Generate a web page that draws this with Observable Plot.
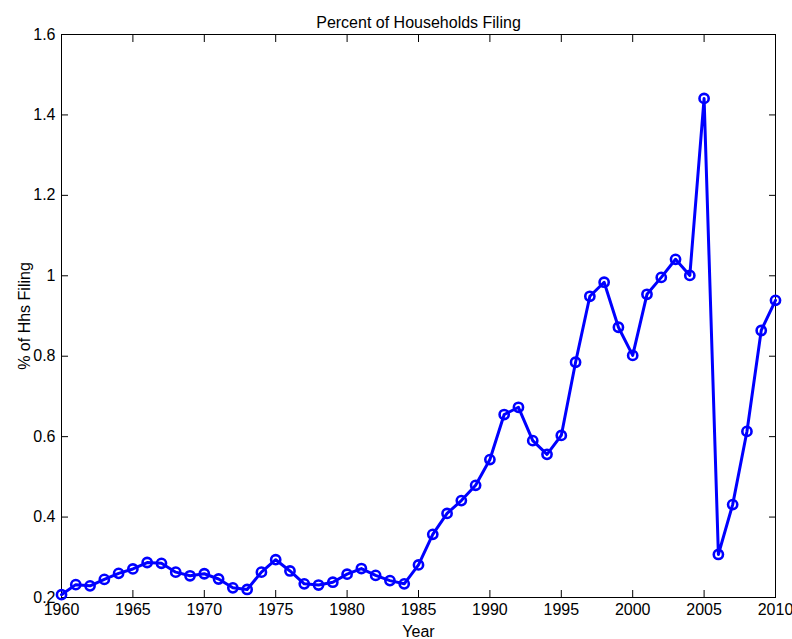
<!DOCTYPE html>
<html><head><meta charset="utf-8">
<script src="https://cdn.jsdelivr.net/npm/d3@7"></script>
<script src="https://cdn.jsdelivr.net/npm/@observablehq/plot@0.6"></script>
<style>body{margin:0;background:#fff}</style>
</head><body><div id="chart"></div>
<script>
const years = [1960,1961,1962,1963,1964,1965,1966,1967,1968,1969,1970,1971,1972,1973,1974,1975,1976,1977,1978,1979,1980,1981,1982,1983,1984,1985,1986,1987,1988,1989,1990,1991,1992,1993,1994,1995,1996,1997,1998,1999,2000,2001,2002,2003,2004,2005,2006,2007,2008,2009,2010];
const pct = [0.207,0.232,0.229,0.245,0.260,0.271,0.287,0.285,0.263,0.254,0.259,0.246,0.224,0.220,0.263,0.294,0.266,0.234,0.231,0.238,0.258,0.272,0.255,0.242,0.234,0.281,0.357,0.409,0.441,0.479,0.543,0.655,0.673,0.590,0.556,0.603,0.785,0.949,0.984,0.872,0.802,0.954,0.996,1.041,1.001,1.441,0.307,0.431,0.613,0.864,0.939];
const xTicks = [1960,1965,1970,1975,1980,1985,1990,1995,2000,2005,2010];
const yTicks = [0.2,0.4,0.6,0.8,1.0,1.2,1.4,1.6];
const title = "Percent of Households Filing";
const xLabel = "Year";
const yLabel = "% of Hhs Filing";

const data = years.map((year, i) => ({year, pct: pct[i]}));
const fmtY = d => String(+d.toFixed(1));

const chart = Plot.plot({
  width: 792, height: 639,
  marginLeft: 61, marginRight: 17, marginTop: 34, marginBottom: 42,
  style: {fontFamily: "'Liberation Sans', Arial, sans-serif", fontSize: "16px", background: "white", color: "black"},
  x: {domain: [1960, 2010]},
  y: {domain: [0.2, 1.6]},
  marks: [
    Plot.frame({stroke: "black", strokeWidth: 1}),
    Plot.axisX({ticks: xTicks, tickSize: -7, tickPadding: 13, tickFormat: d => String(d), label: xLabel, labelAnchor: "center", labelOffset: 39, labelArrow: "none"}),
    Plot.axisX({anchor: "top", ticks: xTicks, tickSize: -7, tickFormat: () => "", label: null}),
    Plot.axisY({ticks: yTicks, tickSize: -7, tickPadding: 13, tickFormat: fmtY, label: yLabel, labelAnchor: "center", labelOffset: 43, labelArrow: "none"}),
    Plot.axisY({anchor: "right", ticks: yTicks, tickSize: -7, tickFormat: () => "", label: null}),
    Plot.line(data, {x: "year", y: "pct", stroke: "#0000ff", strokeWidth: 3}),
    Plot.dot(data, {x: "year", y: "pct", r: 4.6, stroke: "#0000ff", strokeWidth: 2.6, fill: "none"}),
    Plot.text([title], {frameAnchor: "top", dy: -17.5, text: d => d, fontSize: 16})
  ]
});
document.getElementById("chart").appendChild(chart);
</script>
</body></html>
